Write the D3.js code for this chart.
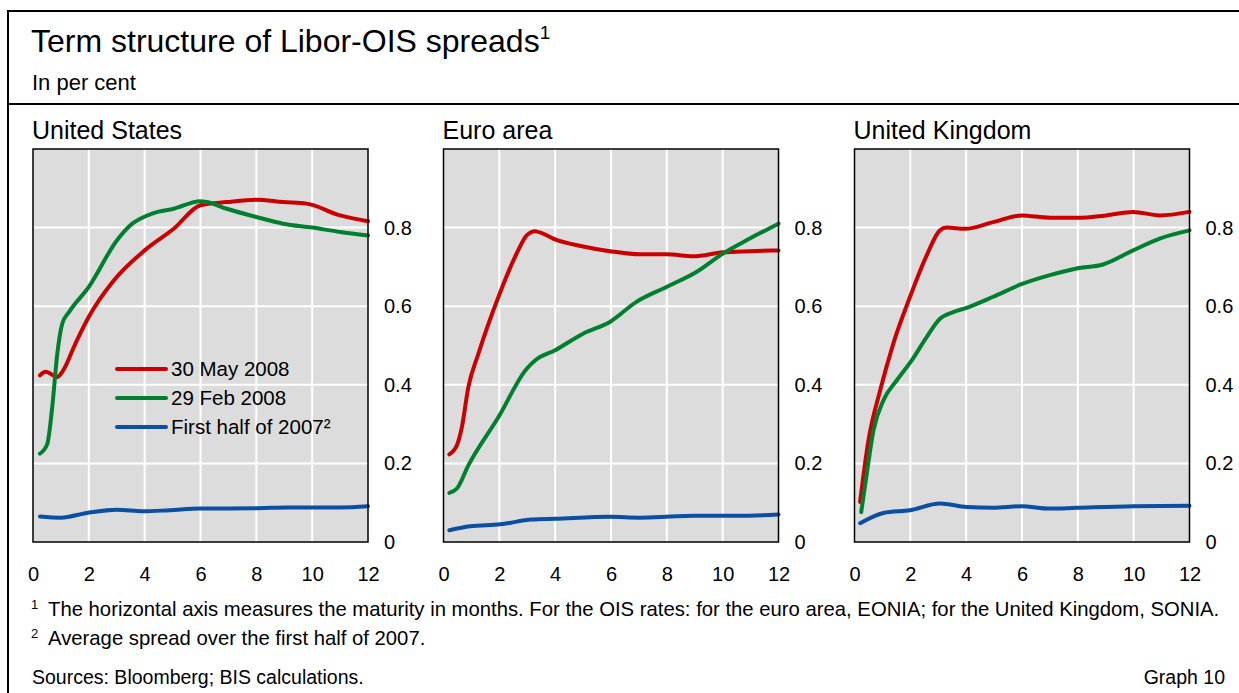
<!DOCTYPE html>
<html>
<head>
<meta charset="utf-8">
<script src="https://cdn.jsdelivr.net/npm/d3@7"></script>
<style>
  body { margin: 0; background: #fff; }
  text { font-family: "Liberation Sans", Arial, sans-serif; fill: #000; }
</style>
</head>
<body>
<script>
// data: [maturity in months, spread in per cent]
var usMay08 = [[0.25,0.424],[0.45,0.433],[0.87,0.42],[1.05,0.433],[1.52,0.505],[2.0,0.573],[2.9,0.666],[4.0,0.742],[5.04,0.797],[6.0,0.857],[6.94,0.865],[8.0,0.871],[8.96,0.865],[9.8,0.861],[11,0.831],[12,0.816]];
var usFeb08 = [[0.25,0.225],[0.51,0.249],[0.69,0.344],[0.87,0.479],[1.05,0.556],[1.29,0.585],[2.0,0.649],[3.01,0.768],[3.49,0.806],[4.32,0.837],[5.04,0.848],[6.0,0.867],[6.23,0.865],[6.94,0.848],[8.0,0.827],[8.96,0.81],[10.0,0.8],[11,0.789],[12,0.78]];
var usH107 = [[0.25,0.065],[1.0,0.062],[1.94,0.074],[3.0,0.082],[3.96,0.078],[4.9,0.081],[6.0,0.085],[8.0,0.086],[9.1,0.088],[11,0.088],[12,0.091]];

var eaMay08 = [[0.21,0.223],[0.48,0.246],[0.66,0.293],[0.89,0.394],[1.25,0.479],[1.97,0.624],[2.62,0.734],[2.98,0.78],[3.28,0.791],[3.52,0.786],[3.93,0.772],[5.0,0.752],[5.96,0.74],[7.03,0.732],[7.99,0.732],[8.94,0.727],[10.0,0.737],[10.97,0.74],[12,0.742]];
var eaFeb08 = [[0.21,0.125],[0.48,0.136],[0.89,0.195],[1.97,0.318],[2.98,0.441],[3.28,0.462],[4.0,0.488],[5.0,0.53],[5.96,0.56],[6.91,0.611],[7.99,0.649],[9.06,0.687],[10.01,0.734],[10.97,0.772],[12,0.81]];
var eaH107 = [[0.21,0.03],[0.95,0.04],[2.03,0.045],[3.16,0.057],[4.0,0.059],[5.96,0.064],[7.03,0.062],[7.99,0.064],[8.94,0.067],[10,0.067],[10.97,0.067],[12,0.07]];

var ukMay08 = [[0.2,0.102],[0.5,0.259],[0.92,0.386],[1.39,0.505],[1.99,0.624],[2.59,0.73],[3.06,0.793],[3.3,0.8],[3.96,0.797],[4.97,0.814],[5.98,0.831],[7.0,0.825],[7.95,0.825],[9.02,0.831],[9.98,0.84],[10.93,0.831],[12,0.84]];
var ukFeb08 = [[0.24,0.076],[0.44,0.174],[0.68,0.284],[1.04,0.361],[1.51,0.411],[2.05,0.462],[2.59,0.522],[3.06,0.568],[3.54,0.585],[4.02,0.596],[4.97,0.624],[5.98,0.656],[7.0,0.679],[7.95,0.696],[8.9,0.706],[9.98,0.742],[10.93,0.772],[12,0.793]];
var ukH107 = [[0.2,0.048],[1.04,0.074],[1.99,0.081],[3.06,0.098],[4.02,0.089],[4.97,0.087],[5.98,0.091],[7.0,0.085],[7.95,0.087],[9.98,0.091],[12,0.092]];

var panelNames = ["United States", "Euro area", "United Kingdom"];
var seriesNames = ["30 May 2008", "29 Feb 2008", "First half of 2007\u00b2"];
var seriesColors = ["#cc0000", "#00802f", "#0a4fa3"];
var xTicks = [0, 2, 4, 6, 8, 10, 12];
var yTicks = [0, 0.2, 0.4, 0.6, 0.8];

var panelData = [[usMay08, usFeb08, usH107], [eaMay08, eaFeb08, eaH107], [ukMay08, ukFeb08, ukH107]];
var panelLeft = [33, 443.5, 854.5];
var panelW = 335, plotTop = 149, plotBottom = 542;

var svg = d3.select("body").append("svg")
    .attr("width", 1239)
    .attr("height", 693);

// frame
svg.append("line").attr("x1", 8).attr("x2", 1239).attr("y1", 11).attr("y2", 11)
    .attr("stroke", "#000").attr("stroke-width", 2);
svg.append("line").attr("x1", 8).attr("x2", 8).attr("y1", 10).attr("y2", 693)
    .attr("stroke", "#000").attr("stroke-width", 2);
svg.append("line").attr("x1", 8).attr("x2", 1239).attr("y1", 104).attr("y2", 104)
    .attr("stroke", "#000").attr("stroke-width", 2);

// title
var title = svg.append("text").attr("x", 31).attr("y", 52).style("font-size", "32px")
    .text("Term structure of Libor-OIS spreads");
title.append("tspan").attr("dy", -13).style("font-size", "19px").text("1");
svg.append("text").attr("x", 32).attr("y", 90).style("font-size", "22px").text("In per cent");

var line = d3.line().curve(d3.curveMonotoneX);

panelData.forEach(function(series, i) {
  var x = d3.scaleLinear().domain([0, 12]).range([panelLeft[i], panelLeft[i] + panelW]);
  var y = d3.scaleLinear().domain([0, 1]).range([plotBottom, plotTop]);
  var g = svg.append("g");

  g.append("text").attr("x", panelLeft[i] - 1).attr("y", 139).style("font-size", "25px")
      .text(panelNames[i]);

  g.append("rect").attr("x", x(0)).attr("y", y(1)).attr("width", panelW).attr("height", plotBottom - plotTop)
      .attr("fill", "#dcdcdc");

  // grid
  g.selectAll(".vg").data(xTicks.slice(1, -1)).enter().append("line")
      .attr("x1", function(d) { return x(d); }).attr("x2", function(d) { return x(d); })
      .attr("y1", plotTop).attr("y2", plotBottom)
      .attr("stroke", "#fff").attr("stroke-width", 2);
  g.selectAll(".hg").data(yTicks.slice(1)).enter().append("line")
      .attr("x1", x(0)).attr("x2", x(12))
      .attr("y1", function(d) { return y(d); }).attr("y2", function(d) { return y(d); })
      .attr("stroke", "#fff").attr("stroke-width", 2);

  // series
  series.forEach(function(s, k) {
    line.x(function(d) { return x(d[0]); }).y(function(d) { return y(d[1]); });
    g.append("path").datum(s).attr("d", line)
        .attr("fill", "none").attr("stroke", seriesColors[k])
        .attr("stroke-width", 4).attr("stroke-linecap", "round").attr("stroke-linejoin", "round");
  });

  g.append("rect").attr("x", x(0)).attr("y", y(1)).attr("width", panelW).attr("height", plotBottom - plotTop)
      .attr("fill", "none").attr("stroke", "#000").attr("stroke-width", 1.5);

  // axes
  var ya = g.append("g").attr("transform", "translate(" + (x(12) + 16) + ",0)")
      .call(d3.axisRight(y).tickValues(yTicks).tickSize(0).tickPadding(0).tickFormat(d3.format("~g")));
  ya.select(".domain").remove();
  ya.selectAll("text").style("font-size", "20px").attr("font-family", null);

  var xa = g.append("g").attr("transform", "translate(0," + plotBottom + ")")
      .call(d3.axisBottom(x).tickValues(xTicks).tickSize(0).tickPadding(25));
  xa.select(".domain").remove();
  xa.selectAll("text").style("font-size", "20px").attr("font-family", null);
});

// legend
var legend = svg.append("g");
seriesNames.forEach(function(n, k) {
  var ly = 369 + k * 29;
  legend.append("line").attr("x1", 117).attr("x2", 166).attr("y1", ly).attr("y2", ly)
      .attr("stroke", seriesColors[k]).attr("stroke-width", 4).attr("stroke-linecap", "round");
  legend.append("text").attr("x", 171).attr("y", ly).attr("dy", "0.35em").style("font-size", "20.5px").text(n);
});

// footnotes
var f1 = svg.append("text").attr("x", 31).attr("y", 616).style("font-size", "20.3px");
f1.append("tspan").attr("dy", -7).style("font-size", "13px").text("1");
f1.append("tspan").attr("x", 48).attr("dy", 7)
    .text("The horizontal axis measures the maturity in months. For the OIS rates: for the euro area, EONIA; for the United Kingdom, SONIA.");
var f2 = svg.append("text").attr("x", 31).attr("y", 645).style("font-size", "20.3px");
f2.append("tspan").attr("dy", -7).style("font-size", "13px").text("2");
f2.append("tspan").attr("x", 48).attr("dy", 7).text("Average spread over the first half of 2007.");
svg.append("text").attr("x", 32).attr("y", 684).style("font-size", "19.5px").text("Sources: Bloomberg; BIS calculations.");
svg.append("text").attr("x", 1225).attr("y", 684).attr("text-anchor", "end").style("font-size", "19.5px").text("Graph 10");
</script>
</body>
</html>
